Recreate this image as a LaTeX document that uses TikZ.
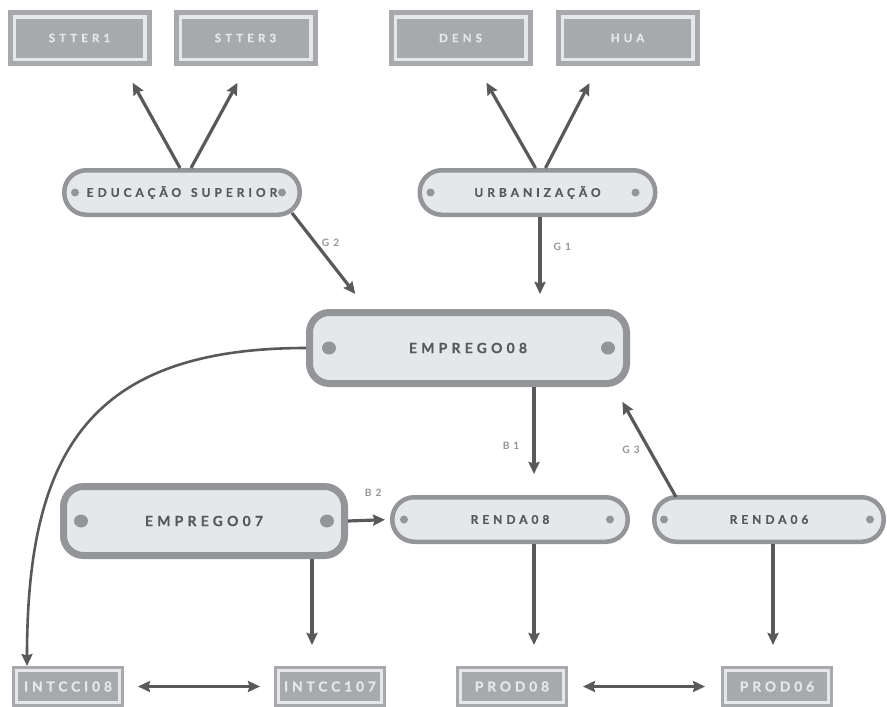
\documentclass[tikz,border=0pt]{standalone}
\usepackage{fontspec}
\setmainfont{Lato}
\usetikzlibrary{calc}
\usetikzlibrary{arrows.meta}
\definecolor{pillfill}{HTML}{E6E7E8}
\definecolor{pillline}{HTML}{939598}
\definecolor{textdark}{HTML}{58595B}
\definecolor{boxgray}{HTML}{A7A9AC}
\definecolor{boxline}{HTML}{E6E7E8}
\newcommand\topfont{\bfseries\fontsize{11.6}{13}\selectfont\addfontfeatures{LetterSpace=35,FakeBold=0.8}}
\newcommand\lowfont{\bfseries\fontsize{13.8}{15}\selectfont\addfontfeatures{LetterSpace=28,FakeBold=0.8}}
\newcommand\pillfont{\bfseries\fontsize{12}{14}\selectfont\addfontfeatures{LetterSpace=33,FakeBold=0.6}}
\newcommand\empfont{\bfseries\fontsize{14}{16}\selectfont\addfontfeatures{LetterSpace=30,FakeBold=0.6}}
\newcommand\edgefont{\bfseries\fontsize{10.2}{11}\selectfont\addfontfeatures{LetterSpace=15}}
\tikzset{
  box/.style      = { rectangle, inner sep=0pt },
  varbox/.style   = { box, fill=boxgray, draw=boxgray, double=boxline,
                      line width=5pt, double distance=3.5pt,
                      minimum width=130.5pt, minimum height=42.5pt,
                      text=boxline, font=\topfont },
  lowbox/.style   = { varbox, line width=3pt, double distance=3pt,
                      minimum width=103pt, minimum height=32pt, font=\lowfont },
  pill/.style     = { box, fill=pillfill, draw=pillline, line width=4.5pt,
                      minimum width=235.5pt, minimum height=44.5pt,
                      rounded corners=22pt, text=textdark, font=\pillfont },
  bigpill/.style  = { pill, line width=7pt, rounded corners=20pt, font=\empfont },
  elabel/.style   = { inner sep=0pt, text=pillline, font=\edgefont },
}
\begin{document}
\begin{tikzpicture}[
  x=1pt,y=-1pt,
  >={Stealth[length=12pt,width=11pt,inset=1.5pt]},
  line width=3.2pt,textdark
]
  \useasboundingbox (0,0) rectangle (887,707);

  % indicators
  \node (stter1) [varbox] at (79.5,38)  {STTER1};
  \node (stter3) [varbox] at (245.5,38) {STTER3};
  \node (dens)   [varbox] at (460.5,38) {DENS};
  \node (hua)    [varbox] at (627.5,38) {HUA};

  % constructs
  \node (edu)     [pill]                    at (182,192.5) {EDUCAÇÃO \hspace{3pt}SUPERIOR};
  \node (urb)     [pill]                    at (537.5,192.5) {URBANIZAÇÃO};
  \node (emp08)   [bigpill,minimum width=317pt,minimum height=71pt] at (468,348) {EMPREGO08};
  \node (emp07)   [bigpill,minimum width=281pt,minimum height=69pt] at (204,521) {EMPREGO07};
  \node (renda08) [pill]                    at (510,519.5) {RENDA08};
  \node (renda06) [pill,minimum width=229.5pt] at (769,519.5) {RENDA06};

  \node (intcci08) [lowbox] at (68,686.5)  {INTCCI08};
  \node (intcc107) [lowbox] at (330,686.5) {INTCC107};
  \node (prod08)   [lowbox] at (512,686.5) {PROD08};
  \node (prod06)   [lowbox] at (777,686.5) {PROD06};

  % end dots
  \foreach \n/\a/\b/\r in {edu/13/20/4, urb/13/22/4, renda08/14/20/4, renda06/12/16/4}
  {
    \fill [pillline] ($ (\n.west) + (\a,0) $) circle (\r);
    \fill [pillline] ($ (\n.east) - (\b,0) $) circle (\r);
  }
  \foreach \n/\a/\b in {emp08/23/22, emp07/21/21}
  {
    \fill [pillline] ($ (\n.west) + (\a,0) $) ellipse (7 and 6.5);
    \fill [pillline] ($ (\n.east) - (\b,0) $) ellipse (7 and 6.5);
  }

  % measurement arrows
  \draw [->,shorten >=24pt] ($ (edu.north) + (-2,0) $) -- ($ (stter1.south) + (41.5,0) $);
  \draw [->,shorten >=24pt] ($ (edu.north) + (9,0) $)  -- ($ (stter3.south) + (3.5,0) $);
  \draw [->,shorten >=24pt] ($ (urb.north) + (-2,0) $) -- ($ (dens.south) + (14,0) $);
  \draw [->,shorten >=24pt] ($ (urb.north) + (8,0) $)  -- ($ (hua.south) + (-27,0) $);

  % structural paths
  \draw [->,shorten >=19pt] ($ (edu.south east) + (-10,-4) $) -- ($ (emp08.north west) + (61,0) $)
        node [elabel,pos=.31,right=5pt] {G 2};
  \draw [->,shorten >=15pt] ($ (urb.south) + (2.5,0) $) -- ($ (emp08.north) + (72,0) $)
        node [elabel,pos=.32,right=12pt] {G 1};
  \draw [->,shorten >=21pt] ($ (emp08.south) + (66,0) $) -- ($ (renda08.north) + (24,0) $)
        node [elabel,pos=.54,left=13pt] {B 1};
  \draw [->,shorten >=17pt] ($ (renda06.north west) + (24,2) $) -- ($ (emp08.south east) + (-16,0) $)
        node [elabel,pos=.43,left=8pt] {G 3};
  \draw [->,shorten >=5pt] (emp07.east) -- (renda08.west)
        node [elabel,pos=.6,above=22pt] {B 2};

  \draw [->,line width=2.6pt,shorten >=3pt]
        (emp08.west) to [out=180,in=90,looseness=1.3] ($ (intcci08.north west) + (12,0) $);

  \draw [->,shorten >=24pt] ($ (emp07.south) + (108,0) $)  -- ($ (intcc107.north) + (-18,0) $);
  \draw [->,shorten >=24pt] ($ (renda08.south) + (24,0) $) -- ($ (prod08.north) + (22,0) $);
  \draw [->,shorten >=24pt] ($ (renda06.south) + (4,0) $)  -- ($ (prod06.north) + (-4,0) $);

  % correlations
  \draw [<->,shorten <=17pt,shorten >=17pt] (intcci08.east) -- (intcc107.west);
  \draw [<->,shorten <=18pt,shorten >=19pt] (prod08.east) -- (prod06.west);

\end{tikzpicture}
\end{document}
